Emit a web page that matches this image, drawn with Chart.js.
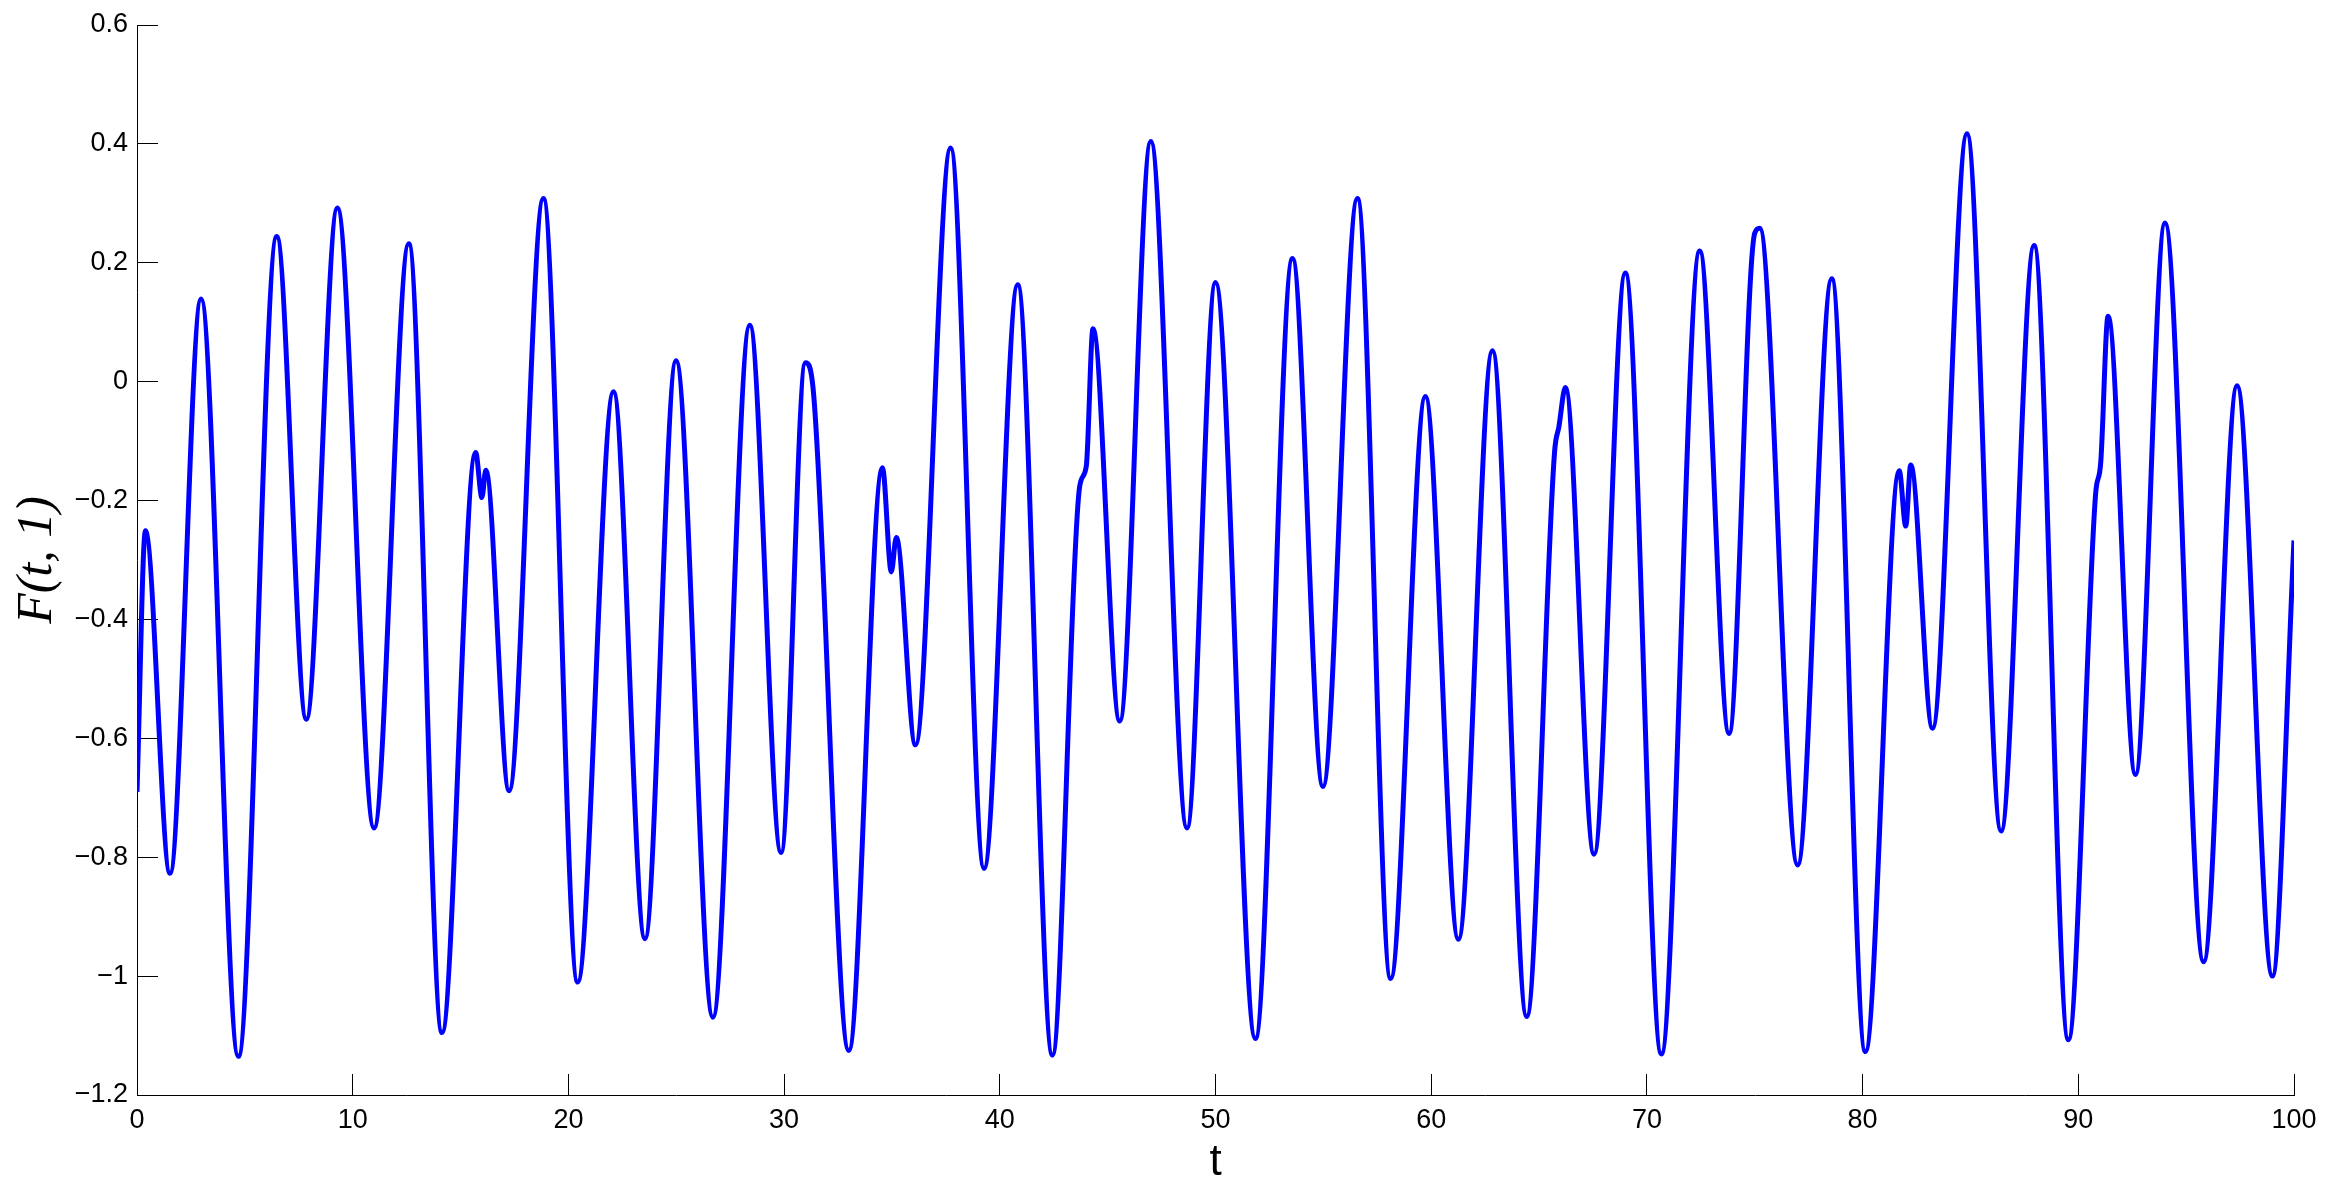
<!DOCTYPE html>
<html>
<head>
<meta charset="utf-8">
<script src="https://cdn.jsdelivr.net/npm/chart.js@4.4.1/dist/chart.umd.min.js"></script>
<style>
  body { margin: 0; background: #fff; }
  #wrap { width: 2335px; height: 1199px; }
</style>
</head>
<body>
<div id="wrap"><canvas id="chart" width="2335" height="1199"></canvas></div>
<script>
// extrema (and a few kinks)
const tVals = [0, 0.39, 1.53, 2.97, 4.70, 6.48, 7.85, 9.29, 10.99, 12.60,
  14.14, 15.70, 15.99, 16.17, 17.25, 18.84, 20.43, 22.09, 23.55, 24.99,
  26.70, 28.41, 29.86, 30.99, 31.34, 33.0, 34.56, 34.97, 35.2, 36.09,
  37.72, 39.27, 40.83, 42.44, 43.7, 44.01, 44.32, 45.56, 47.0, 48.68,
  50.0, 51.85, 53.57, 54.98, 56.58, 58.12, 59.73, 61.26, 62.84, 64.43,
  65.72, 65.92, 66.22, 67.55, 69.0, 70.67, 72.45, 73.81, 75.0, 75.23,
  76.99, 78.57, 80.13, 81.7, 82.0, 82.23, 83.24, 84.84, 86.42, 87.95,
  89.54, 90.8, 91.04, 91.38, 92.65, 94.02, 95.81, 97.36, 99.0, 100];
const fVals = [-0.69, -0.251, -0.827, 0.139, -1.135, 0.244, -0.568, 0.292, -0.751, 0.232,
  -1.095, -0.119, -0.195, -0.149, -0.688, 0.308, -1.01, -0.017, -0.937, 0.035,
  -1.069, 0.095, -0.792, 0.032, -0.01, -1.125, -0.145, -0.32, -0.262, -0.611,
  0.393, -0.819, 0.163, -1.133, -0.177, -0.142, 0.089, -0.571, 0.404, -0.751,
  0.167, -1.105, 0.207, -0.681, 0.308, -1.004, -0.025, -0.938, 0.052, -1.068,
  -0.118, -0.076, -0.01, -0.795, 0.183, -1.131, 0.220, -0.592, 0.25, 0.258,
  -0.813, 0.173, -1.127, -0.15, -0.243, -0.14, -0.583, 0.417, -0.756, 0.229,
  -1.107, -0.19, -0.136, 0.11, -0.661, 0.267, -0.976, -0.007, -1.0, -0.267];

const xTickLabels = ['0', '10', '20', '30', '40', '50', '60', '70', '80', '90', '100'];
const yTickLabels = ['\u22121.2', '\u22121', '\u22120.8', '\u22120.6', '\u22120.4', '\u22120.2', '0', '0.2', '0.4', '0.6'];

const points = tVals.map((t, i) => ({x: t, y: fVals[i]}));

const tickFont = {family: "'Liberation Sans', Helvetica, Arial, sans-serif", size: 27};

// fixed axis sizes, no extra room for the end labels
function fixScale(s, w, h) {
  if (w) s.width = w;
  if (h) s.height = h;
  s.paddingTop = s.paddingBottom = s.paddingLeft = s.paddingRight = 0;
}

new Chart(document.getElementById('chart').getContext('2d'), {
  type: 'line',
  data: {
    datasets: [{
      data: points,
      borderColor: '#0000ff',
      borderWidth: 5,
      pointRadius: 0,
      cubicInterpolationMode: 'monotone',
      fill: false
    }]
  },
  options: {
    responsive: false,
    animation: false,
    devicePixelRatio: 1,
    layout: {padding: {top: 25, right: 41, left: 0, bottom: 0}},
    plugins: {legend: {display: false}, tooltip: {enabled: false}},
    scales: {
      x: {
        type: 'linear',
        min: 0, max: 100,
        afterFit: (s) => fixScale(s, 0, 104),
        ticks: {
          stepSize: 10,
          padding: 30,
          color: '#000',
          font: tickFont,
          maxRotation: 0,
          callback: (v, i) => xTickLabels[i]
        },
        grid: {drawOnChartArea: false, tickLength: -21, color: '#000', lineWidth: 1},
        border: {display: true, color: '#000', width: 1},
        title: {
          display: true,
          text: 't',
          color: '#000',
          font: {family: "'Liberation Sans', Helvetica, Arial, sans-serif", size: 44},
          padding: {top: 0, bottom: 10}
        }
      },
      y: {
        min: -1.2, max: 0.6,
        afterFit: (s) => fixScale(s, 137, 0),
        ticks: {
          stepSize: 0.2,
          padding: 30,
          color: '#000',
          font: tickFont,
          callback: (v, i) => yTickLabels[i]
        },
        grid: {drawOnChartArea: false, tickLength: -21, color: '#000', lineWidth: 1},
        border: {display: true, color: '#000', width: 1},
        title: {
          display: true,
          text: 'F(t, 1)',
          color: '#000',
          font: {family: "'Liberation Serif', 'Times New Roman', serif", size: 50, style: 'italic'},
          padding: {top: 8, bottom: 0}
        }
      }
    }
  }
});
</script>
</body>
</html>
